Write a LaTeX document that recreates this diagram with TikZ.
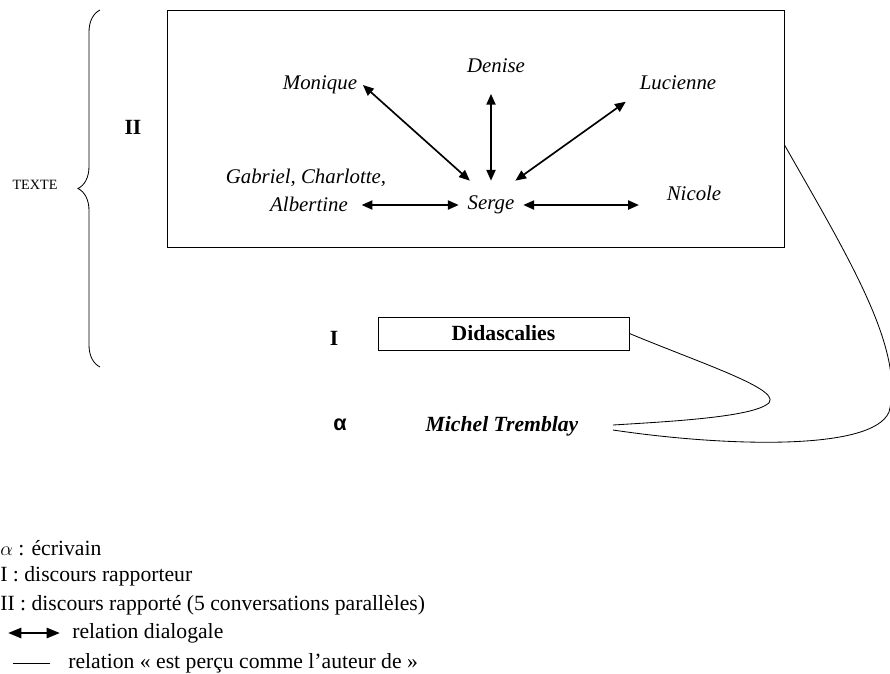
\documentclass[tikz,border=0pt]{standalone}
\usepackage{fontspec}
\setmainfont{Liberation Serif}
\newfontfamily\alphafont{Liberation Sans}
\usepackage{tikz}
\usetikzlibrary{calc}
\usetikzlibrary{positioning}
\usetikzlibrary{arrows.meta}
\usetikzlibrary{decorations.pathreplacing}

\begin{document}
\begin{tikzpicture}[x=0.6pt,y=-0.6pt,
  every node/.style={font=\fontsize{13}{15}\selectfont},
  perso/.style={font=\fontsize{12.5}{14}\selectfont\itshape},
  niveau/.style={font=\fontsize{13}{15}\selectfont\bfseries},
  dialog/.style={{Triangle[length=6.5pt,width=5.5pt]}-{Triangle[length=6.5pt,width=5.5pt]},line width=1pt},
  auteur/.style={line width=0.5pt},
  legende/.style={anchor=west,inner sep=0pt}]
\useasboundingbox (0,0) rectangle (890,673);

% texte
\draw[line width=0.5pt,decorate,decoration={brace,amplitude=13.2pt}] (100,367) -- (100,10);
\node[font=\fontsize{8.5}{10}\selectfont] (texte) at (35,185) {TEXTE};

% II : discours rapporte
\node[draw,line width=0.6pt,minimum width=370.2pt,minimum height=142.2pt,inner sep=0pt] (rapporte) at (475.5,128.5) {};
\node[niveau] (deux) at (133,127) {II};

\node[perso,minimum width=38.4pt,minimum height=28.8pt,inner sep=0pt] (serge) at (491,205) {Serge};
\node[perso] (monique) at (320,85) {Monique};
\node[perso] (denise) at (496,66) {Denise};
\node[perso] (lucienne) at (678,83) {Lucienne};
\node[perso] (nicole) at (694,193) {Nicole};
\node[perso] (gabriel) at (306,178) {Gabriel, Charlotte,};
\node[perso] (albertine) at (309,204) {Albertine};

\draw[dialog] (serge.131.5) -- (monique.east);
\draw[dialog,shorten >=9pt] (serge.north) -- (serge.north |- denise.south);
\draw[dialog,shorten >=6pt] (serge.45) -- (lucienne.south west);
\draw[dialog,shorten >=4.8pt] (serge.west) -- (serge.west -| albertine.east);
\draw[dialog,shorten >=13.2pt] (serge.east) -- (serge.east -| nicole.west);

% I : discours rapporteur
\node[draw,niveau,line width=0.6pt,minimum width=150.6pt,minimum height=19.8pt,inner sep=0pt] (didasc) at (503.5,333.5) {Didascalies};
\node[niveau] (un) at (334,338) {I};

% alpha : ecrivain
\node[font=\fontsize{13}{15}\selectfont\alphafont\bfseries] (alpha) at (340,425) {α};
\node[font=\fontsize{13}{15}\selectfont\bfseries\itshape] (michel) at (502,426) {Michel Tremblay};
\coordinate (michel a) at ($(michel)+(111,-1)$);
\coordinate (michel b) at ($(michel)+(111,4)$);

\draw[auteur] (didasc.east) .. controls (705,365) and (790,392) .. (766,405)
  .. controls (745,418) and (660,422) .. (michel a);
\draw[auteur] ($(rapporte.east)+(0,16.5)$) .. controls (850,260) and (905,350) .. (889,412)
  .. controls (872,452) and (720,446) .. (michel b);

% legende
\node[legende] (leg alpha) at (0,548) {$\alpha$ : écrivain};
\node[legende] (leg un) at (0,576) {I : discours rapporteur};
\node[legende] (leg deux) at (0,605) {II : discours rapporté (5 conversations parallèles)};
\node[legende] (leg dialog) at (72,633) {relation dialogale};
\node[legende] (leg auteur) at (68,663) {relation « est perçu comme l’auteur de »};
\draw[{Triangle[length=8pt,width=6pt]}-{Triangle[length=8pt,width=6pt]},line width=1.6pt]
  ([xshift=-38.4pt]leg dialog.west) -- ([xshift=-7.2pt]leg dialog.west);
\draw[auteur] ([xshift=-33pt]leg auteur.west) -- ([xshift=-10.8pt]leg auteur.west);
\end{tikzpicture}
\end{document}
